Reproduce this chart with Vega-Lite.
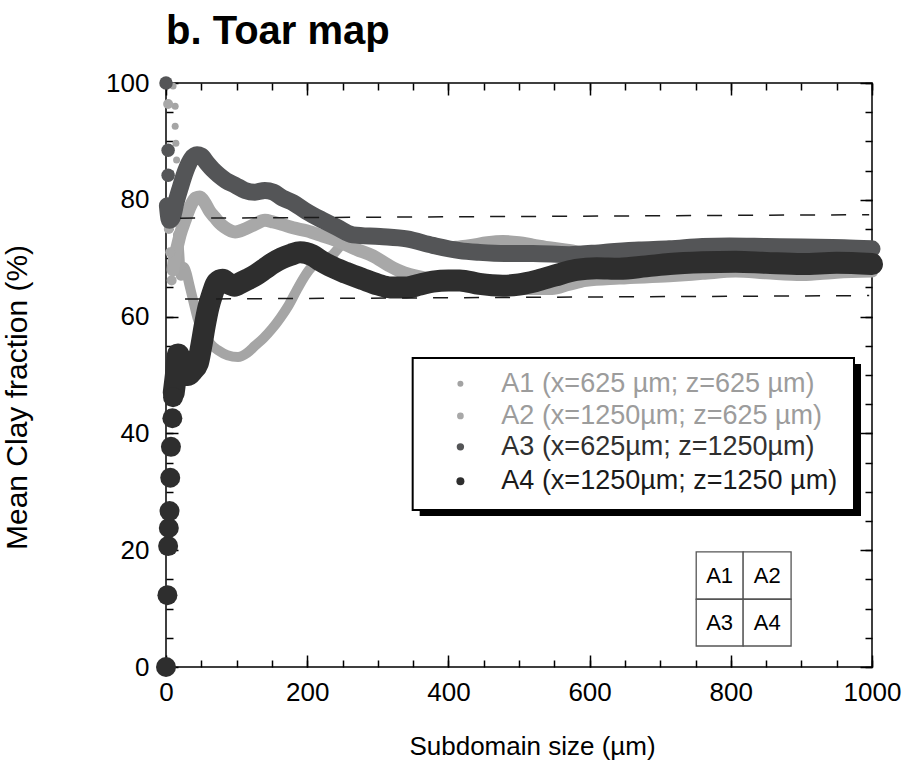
{
  "$schema": "https://vega.github.io/schema/vega-lite/v6.json",
  "width": 706,
  "height": 584,
  "autosize": "none",
  "padding": {"left": 166, "top": 83, "right": 35, "bottom": 104},
  "background": "white",
  "config": {
    "view": {"stroke": "black", "strokeWidth": 1.5},
    "font": "Liberation Sans",
    "axis": {"grid": false, "domain": false, "tickColor": "black", "tickWidth": 1.5, "labelColor": "black", "titleColor": "black", "labelFont": "Liberation Sans", "titleFont": "Liberation Sans", "labelFontSize": 26, "titleFontSize": 26, "titleFontWeight": "normal", "labelFlush": false, "labelOverlap": false}
  },
  "title": {"text": "b. Toar map", "anchor": "start", "frame": "group", "fontSize": 40, "font": "Liberation Sans", "fontWeight": "bold", "color": "black", "offset": 18},
  "datasets": {
    "curves": [
      {"s": "A1", "x": 10, "y": 99.5, "p": 1}, {"s": "A1", "x": 13, "y": 96, "p": 1}, {"s": "A1", "x": 13, "y": 92.6, "p": 1}, {"s": "A1", "x": 14, "y": 89.7, "p": 1}, {"s": "A1", "x": 15, "y": 86.8, "p": 1}, {"s": "A1", "x": 24, "y": 68.7, "p": 1},
      {"s": "A1", "x": 17, "y": 74, "p": 0}, {"s": "A1", "x": 19, "y": 70.5, "p": 0}, {"s": "A1", "x": 21, "y": 67, "p": 0}, {"s": "A1", "x": 25, "y": 68.5, "p": 0}, {"s": "A1", "x": 29, "y": 67.5, "p": 0}, {"s": "A1", "x": 33, "y": 65.5, "p": 0}, {"s": "A1", "x": 37, "y": 63.5, "p": 0}, {"s": "A1", "x": 41, "y": 61.5, "p": 0}, {"s": "A1", "x": 45, "y": 59.6, "p": 0}, {"s": "A1", "x": 50, "y": 58, "p": 0}, {"s": "A1", "x": 55, "y": 56.7, "p": 0}, {"s": "A1", "x": 64, "y": 55.2, "p": 0}, {"s": "A1", "x": 73, "y": 54.3, "p": 0}, {"s": "A1", "x": 87, "y": 53.4, "p": 0}, {"s": "A1", "x": 102, "y": 53.1, "p": 0}, {"s": "A1", "x": 115, "y": 53.8, "p": 0}, {"s": "A1", "x": 126, "y": 55, "p": 0}, {"s": "A1", "x": 138, "y": 56.3, "p": 0}, {"s": "A1", "x": 150, "y": 57.9, "p": 0}, {"s": "A1", "x": 162, "y": 59.8, "p": 0}, {"s": "A1", "x": 173, "y": 61.8, "p": 0}, {"s": "A1", "x": 185, "y": 64.5, "p": 0}, {"s": "A1", "x": 197, "y": 67, "p": 0}, {"s": "A1", "x": 207, "y": 68.6, "p": 0}, {"s": "A1", "x": 222, "y": 69.6, "p": 0}, {"s": "A1", "x": 236, "y": 70.6, "p": 0}, {"s": "A1", "x": 250, "y": 72.5, "p": 0}, {"s": "A1", "x": 265, "y": 73.8, "p": 0}, {"s": "A1", "x": 285, "y": 73.8, "p": 0}, {"s": "A1", "x": 303, "y": 73.8, "p": 0}, {"s": "A1", "x": 322, "y": 73.6, "p": 0}, {"s": "A1", "x": 341, "y": 73.3, "p": 0}, {"s": "A1", "x": 360, "y": 72.7, "p": 0}, {"s": "A1", "x": 378, "y": 72.2, "p": 0}, {"s": "A1", "x": 400, "y": 72.0, "p": 0}, {"s": "A1", "x": 416, "y": 72.2, "p": 0}, {"s": "A1", "x": 430, "y": 72.4, "p": 0}, {"s": "A1", "x": 455, "y": 72.9, "p": 0}, {"s": "A1", "x": 477, "y": 73.1, "p": 0}, {"s": "A1", "x": 500, "y": 72.9, "p": 0}, {"s": "A1", "x": 520, "y": 72.5, "p": 0}, {"s": "A1", "x": 545, "y": 72, "p": 0}, {"s": "A1", "x": 571, "y": 71.6, "p": 0}, {"s": "A1", "x": 600, "y": 71, "p": 0}, {"s": "A1", "x": 640, "y": 71.1, "p": 0}, {"s": "A1", "x": 670, "y": 71.4, "p": 0}, {"s": "A1", "x": 713, "y": 71.6, "p": 0}, {"s": "A1", "x": 760, "y": 72, "p": 0}, {"s": "A1", "x": 798, "y": 72.1, "p": 0}, {"s": "A1", "x": 850, "y": 72, "p": 0}, {"s": "A1", "x": 901, "y": 71.9, "p": 0}, {"s": "A1", "x": 960, "y": 71.8, "p": 0}, {"s": "A1", "x": 1000, "y": 71.6, "p": 0},
      {"s": "A2", "x": 3, "y": 96.4, "p": 1}, {"s": "A2", "x": 4, "y": 75, "p": 1}, {"s": "A2", "x": 6, "y": 71, "p": 1}, {"s": "A2", "x": 8, "y": 66.2, "p": 1},
      {"s": "A2", "x": 10, "y": 68, "p": 0}, {"s": "A2", "x": 12, "y": 70, "p": 0}, {"s": "A2", "x": 16, "y": 72, "p": 0}, {"s": "A2", "x": 20, "y": 74, "p": 0}, {"s": "A2", "x": 27, "y": 76.5, "p": 0}, {"s": "A2", "x": 35, "y": 79, "p": 0}, {"s": "A2", "x": 42, "y": 80.3, "p": 0}, {"s": "A2", "x": 48, "y": 80.5, "p": 0}, {"s": "A2", "x": 55, "y": 79.5, "p": 0}, {"s": "A2", "x": 62, "y": 78, "p": 0}, {"s": "A2", "x": 69, "y": 77, "p": 0}, {"s": "A2", "x": 76, "y": 76, "p": 0}, {"s": "A2", "x": 83, "y": 75.3, "p": 0}, {"s": "A2", "x": 98, "y": 74.5, "p": 0}, {"s": "A2", "x": 112, "y": 75, "p": 0}, {"s": "A2", "x": 126, "y": 75.8, "p": 0}, {"s": "A2", "x": 140, "y": 76.5, "p": 0}, {"s": "A2", "x": 152, "y": 76.2, "p": 0}, {"s": "A2", "x": 164, "y": 75.8, "p": 0}, {"s": "A2", "x": 180, "y": 75.2, "p": 0}, {"s": "A2", "x": 199, "y": 74.7, "p": 0}, {"s": "A2", "x": 222, "y": 73.8, "p": 0}, {"s": "A2", "x": 246, "y": 72.8, "p": 0}, {"s": "A2", "x": 270, "y": 71.5, "p": 0}, {"s": "A2", "x": 293, "y": 70.4, "p": 0}, {"s": "A2", "x": 315, "y": 68.8, "p": 0}, {"s": "A2", "x": 331, "y": 67.8, "p": 0}, {"s": "A2", "x": 345, "y": 67.2, "p": 0}, {"s": "A2", "x": 359, "y": 66.8, "p": 0}, {"s": "A2", "x": 380, "y": 66.3, "p": 0}, {"s": "A2", "x": 400, "y": 65.8, "p": 0}, {"s": "A2", "x": 430, "y": 65.3, "p": 0}, {"s": "A2", "x": 477, "y": 64.8, "p": 0}, {"s": "A2", "x": 524, "y": 64.8, "p": 0}, {"s": "A2", "x": 547, "y": 64.8, "p": 0}, {"s": "A2", "x": 570, "y": 65.5, "p": 0}, {"s": "A2", "x": 595, "y": 66.2, "p": 0}, {"s": "A2", "x": 642, "y": 66.6, "p": 0}, {"s": "A2", "x": 713, "y": 67, "p": 0}, {"s": "A2", "x": 760, "y": 67.4, "p": 0}, {"s": "A2", "x": 807, "y": 67.8, "p": 0}, {"s": "A2", "x": 850, "y": 67.5, "p": 0}, {"s": "A2", "x": 901, "y": 67.2, "p": 0}, {"s": "A2", "x": 950, "y": 67.6, "p": 0}, {"s": "A2", "x": 1000, "y": 67.8, "p": 0},
      {"s": "A3", "x": 0, "y": 100, "p": 1}, {"s": "A3", "x": 3, "y": 88.5, "p": 1}, {"s": "A3", "x": 3, "y": 84.2, "p": 1},
      {"s": "A3", "x": 2, "y": 79, "p": 0}, {"s": "A3", "x": 5, "y": 76.5, "p": 0}, {"s": "A3", "x": 9, "y": 77, "p": 0}, {"s": "A3", "x": 14, "y": 79.5, "p": 0}, {"s": "A3", "x": 20, "y": 82, "p": 0}, {"s": "A3", "x": 28, "y": 85, "p": 0}, {"s": "A3", "x": 36, "y": 87, "p": 0}, {"s": "A3", "x": 44, "y": 87.7, "p": 0}, {"s": "A3", "x": 50, "y": 87.5, "p": 0}, {"s": "A3", "x": 58, "y": 86.3, "p": 0}, {"s": "A3", "x": 66, "y": 85.2, "p": 0}, {"s": "A3", "x": 75, "y": 84.2, "p": 0}, {"s": "A3", "x": 85, "y": 83.3, "p": 0}, {"s": "A3", "x": 98, "y": 82.5, "p": 0}, {"s": "A3", "x": 112, "y": 81.6, "p": 0}, {"s": "A3", "x": 126, "y": 81.3, "p": 0}, {"s": "A3", "x": 140, "y": 81.6, "p": 0}, {"s": "A3", "x": 152, "y": 81.3, "p": 0}, {"s": "A3", "x": 165, "y": 80.3, "p": 0}, {"s": "A3", "x": 180, "y": 79.5, "p": 0}, {"s": "A3", "x": 199, "y": 78, "p": 0}, {"s": "A3", "x": 222, "y": 76.5, "p": 0}, {"s": "A3", "x": 242, "y": 75.3, "p": 0}, {"s": "A3", "x": 265, "y": 74, "p": 0}, {"s": "A3", "x": 303, "y": 73.7, "p": 0}, {"s": "A3", "x": 341, "y": 73.3, "p": 0}, {"s": "A3", "x": 378, "y": 72.2, "p": 0}, {"s": "A3", "x": 416, "y": 71.3, "p": 0}, {"s": "A3", "x": 444, "y": 71, "p": 0}, {"s": "A3", "x": 480, "y": 70.8, "p": 0}, {"s": "A3", "x": 520, "y": 70.8, "p": 0}, {"s": "A3", "x": 571, "y": 70.6, "p": 0}, {"s": "A3", "x": 620, "y": 71, "p": 0}, {"s": "A3", "x": 670, "y": 71.4, "p": 0}, {"s": "A3", "x": 713, "y": 71.6, "p": 0}, {"s": "A3", "x": 760, "y": 72, "p": 0}, {"s": "A3", "x": 798, "y": 72.1, "p": 0}, {"s": "A3", "x": 850, "y": 72, "p": 0}, {"s": "A3", "x": 901, "y": 71.9, "p": 0}, {"s": "A3", "x": 960, "y": 71.8, "p": 0}, {"s": "A3", "x": 1000, "y": 71.6, "p": 0},
      {"s": "A4", "x": 0, "y": 0, "p": 1}, {"s": "A4", "x": 2, "y": 12.3, "p": 1}, {"s": "A4", "x": 3, "y": 20.7, "p": 1}, {"s": "A4", "x": 4, "y": 23.8, "p": 1}, {"s": "A4", "x": 5, "y": 26.7, "p": 1}, {"s": "A4", "x": 6, "y": 32.4, "p": 1}, {"s": "A4", "x": 7, "y": 37.7, "p": 1}, {"s": "A4", "x": 9, "y": 42.6, "p": 1}, {"s": "A4", "x": 10, "y": 46.2, "p": 1},
      {"s": "A4", "x": 11, "y": 47, "p": 0}, {"s": "A4", "x": 14, "y": 50, "p": 0}, {"s": "A4", "x": 17, "y": 53.5, "p": 0}, {"s": "A4", "x": 21, "y": 52.5, "p": 0}, {"s": "A4", "x": 26, "y": 51, "p": 0}, {"s": "A4", "x": 31, "y": 50, "p": 0}, {"s": "A4", "x": 38, "y": 50.8, "p": 0}, {"s": "A4", "x": 45, "y": 52, "p": 0}, {"s": "A4", "x": 50, "y": 55, "p": 0}, {"s": "A4", "x": 55, "y": 58.5, "p": 0}, {"s": "A4", "x": 60, "y": 61.5, "p": 0}, {"s": "A4", "x": 66, "y": 64, "p": 0}, {"s": "A4", "x": 72, "y": 65.8, "p": 0}, {"s": "A4", "x": 80, "y": 66.3, "p": 0}, {"s": "A4", "x": 88, "y": 65.7, "p": 0}, {"s": "A4", "x": 97, "y": 65.3, "p": 0}, {"s": "A4", "x": 106, "y": 65.8, "p": 0}, {"s": "A4", "x": 116, "y": 66.4, "p": 0}, {"s": "A4", "x": 128, "y": 67.2, "p": 0}, {"s": "A4", "x": 140, "y": 68.2, "p": 0}, {"s": "A4", "x": 152, "y": 69.2, "p": 0}, {"s": "A4", "x": 164, "y": 70, "p": 0}, {"s": "A4", "x": 177, "y": 70.6, "p": 0}, {"s": "A4", "x": 190, "y": 71, "p": 0}, {"s": "A4", "x": 207, "y": 70.5, "p": 0}, {"s": "A4", "x": 220, "y": 69.5, "p": 0}, {"s": "A4", "x": 232, "y": 68.7, "p": 0}, {"s": "A4", "x": 255, "y": 67.5, "p": 0}, {"s": "A4", "x": 279, "y": 66.4, "p": 0}, {"s": "A4", "x": 300, "y": 65.5, "p": 0}, {"s": "A4", "x": 317, "y": 65, "p": 0}, {"s": "A4", "x": 341, "y": 65, "p": 0}, {"s": "A4", "x": 360, "y": 65.5, "p": 0}, {"s": "A4", "x": 378, "y": 66, "p": 0}, {"s": "A4", "x": 400, "y": 66.2, "p": 0}, {"s": "A4", "x": 416, "y": 66.2, "p": 0}, {"s": "A4", "x": 444, "y": 65.6, "p": 0}, {"s": "A4", "x": 477, "y": 65.3, "p": 0}, {"s": "A4", "x": 500, "y": 65.5, "p": 0}, {"s": "A4", "x": 524, "y": 66.1, "p": 0}, {"s": "A4", "x": 550, "y": 67, "p": 0}, {"s": "A4", "x": 581, "y": 68, "p": 0}, {"s": "A4", "x": 610, "y": 68.3, "p": 0}, {"s": "A4", "x": 642, "y": 68.2, "p": 0}, {"s": "A4", "x": 680, "y": 68.6, "p": 0}, {"s": "A4", "x": 713, "y": 69, "p": 0}, {"s": "A4", "x": 760, "y": 69.3, "p": 0}, {"s": "A4", "x": 807, "y": 69.4, "p": 0}, {"s": "A4", "x": 850, "y": 69.2, "p": 0}, {"s": "A4", "x": 901, "y": 69, "p": 0}, {"s": "A4", "x": 950, "y": 69.2, "p": 0}, {"s": "A4", "x": 1000, "y": 69, "p": 0}
    ],
    "dash": [
      {"x1": 20, "y1": 76.85, "x2": 996, "y2": 77.45},
      {"x1": 27, "y1": 63.0, "x2": 996, "y2": 63.6}
    ],
    "box": [
      {"x1": 349.4, "x2": 974.5, "y1": 26.9, "y2": 52.9}
    ],
    "legend": [
      {"s": "A1", "label": "A1 (x=625 µm; z=625 µm)", "lx": 417, "tx": 475, "ly": 48.5},
      {"s": "A2", "label": "A2 (x=1250µm; z=625 µm)", "lx": 417, "tx": 475, "ly": 43.0},
      {"s": "A3", "label": "A3 (x=625µm; z=1250µm)", "lx": 417, "tx": 475, "ly": 37.7},
      {"s": "A4", "label": "A4 (x=1250µm; z=1250 µm)", "lx": 417, "tx": 475, "ly": 31.8}
    ],
    "cells": [
      {"label": "A1", "x1": 751, "x2": 817.5, "y1": 11.6, "y2": 19.7, "cx": 784.2, "cy": 15.65},
      {"label": "A2", "x1": 817.5, "x2": 885.4, "y1": 11.6, "y2": 19.7, "cx": 851.5, "cy": 15.65},
      {"label": "A3", "x1": 751, "x2": 817.5, "y1": 3.6, "y2": 11.6, "cx": 784.2, "cy": 7.6},
      {"label": "A4", "x1": 817.5, "x2": 885.4, "y1": 3.6, "y2": 11.6, "cx": 851.5, "cy": 7.6}
    ]
  },
  "resolve": {"axis": {"x": "independent", "y": "independent"}, "scale": {"color": "independent", "size": "independent"}},
  "layer": [
    {
      "data": {"name": "curves"},
      "transform": [{"filter": "datum.s == 'A1' && datum.p == 0"}],
      "mark": {"type": "line", "color": "#a5a5a5", "strokeWidth": 10, "strokeCap": "round", "strokeJoin": "round", "interpolate": "monotone"},
      "encoding": {
        "x": {"field": "x", "type": "quantitative", "scale": {"domain": [0, 1000], "nice": false, "zero": false}, "axis": {"orient": "bottom", "values": [0, 200, 400, 600, 800, 1000], "format": "d", "tickSize": -12, "labelPadding": 24, "title": "Subdomain size (µm)", "titleX": 366, "titleY": 66}},
        "y": {"field": "y", "type": "quantitative", "scale": {"domain": [0, 100], "nice": false, "zero": false}, "axis": {"orient": "left", "values": [0, 20, 40, 60, 80, 100], "format": "d", "tickSize": -12, "labelPadding": 29, "title": "Mean Clay fraction (%)", "titleFontSize": 30, "titleX": -134, "titleY": 314}}
      }
    },
    {
      "data": {"name": "curves"},
      "transform": [{"filter": "datum.s == 'A1' && datum.p == 1"}],
      "mark": {"type": "circle", "color": "#a5a5a5", "size": 49, "opacity": 1},
      "encoding": {
        "x": {"field": "x", "type": "quantitative", "axis": null},
        "y": {"field": "y", "type": "quantitative", "axis": null}
      }
    },
    {
      "data": {"name": "curves"},
      "transform": [{"filter": "datum.s == 'A2' && datum.p == 0"}],
      "mark": {"type": "line", "color": "#a8a8a8", "strokeWidth": 13, "strokeCap": "round", "strokeJoin": "round", "interpolate": "monotone"},
      "encoding": {
        "x": {"field": "x", "type": "quantitative", "axis": {"orient": "bottom", "values": [0, 50, 100, 150, 200, 250, 300, 350, 400, 450, 500, 550, 600, 650, 700, 750, 800, 850, 900, 950, 1000], "tickSize": -7, "labels": false, "title": null}},
        "y": {"field": "y", "type": "quantitative", "axis": {"orient": "left", "values": [0, 5, 10, 15, 20, 25, 30, 35, 40, 45, 50, 55, 60, 65, 70, 75, 80, 85, 90, 95, 100], "tickSize": -7, "labels": false, "title": null}}
      }
    },
    {
      "data": {"name": "curves"},
      "transform": [{"filter": "datum.s == 'A2' && datum.p == 1"}],
      "mark": {"type": "circle", "color": "#a8a8a8", "size": 100, "opacity": 1},
      "encoding": {
        "x": {"field": "x", "type": "quantitative", "axis": null},
        "y": {"field": "y", "type": "quantitative", "axis": null}
      }
    },
    {
      "data": {"name": "curves"},
      "transform": [{"filter": "datum.s == 'A3' && datum.p == 0"}],
      "mark": {"type": "line", "color": "#545557", "strokeWidth": 17, "strokeCap": "round", "strokeJoin": "round", "interpolate": "monotone"},
      "encoding": {
        "x": {"field": "x", "type": "quantitative", "axis": {"orient": "top", "values": [0, 200, 400, 600, 800, 1000], "tickSize": -12, "labels": false, "title": null}},
        "y": {"field": "y", "type": "quantitative", "axis": {"orient": "right", "values": [0, 20, 40, 60, 80, 100], "tickSize": -12, "labels": false, "title": null}}
      }
    },
    {
      "data": {"name": "curves"},
      "transform": [{"filter": "datum.s == 'A3' && datum.p == 1"}],
      "mark": {"type": "circle", "color": "#545557", "size": 182, "opacity": 1},
      "encoding": {
        "x": {"field": "x", "type": "quantitative", "axis": null},
        "y": {"field": "y", "type": "quantitative", "axis": null}
      }
    },
    {
      "data": {"name": "curves"},
      "transform": [{"filter": "datum.s == 'A4' && datum.p == 0"}],
      "mark": {"type": "line", "color": "#2e2e2e", "strokeWidth": 22, "strokeCap": "round", "strokeJoin": "round", "interpolate": "monotone"},
      "encoding": {
        "x": {"field": "x", "type": "quantitative", "axis": {"orient": "top", "values": [0, 50, 100, 150, 200, 250, 300, 350, 400, 450, 500, 550, 600, 650, 700, 750, 800, 850, 900, 950, 1000], "tickSize": -7, "labels": false, "title": null}},
        "y": {"field": "y", "type": "quantitative", "axis": {"orient": "right", "values": [0, 5, 10, 15, 20, 25, 30, 35, 40, 45, 50, 55, 60, 65, 70, 75, 80, 85, 90, 95, 100], "tickSize": -7, "labels": false, "title": null}}
      }
    },
    {
      "data": {"name": "curves"},
      "transform": [{"filter": "datum.s == 'A4' && datum.p == 1"}],
      "mark": {"type": "circle", "color": "#2e2e2e", "size": 400, "opacity": 1},
      "encoding": {
        "x": {"field": "x", "type": "quantitative", "axis": null},
        "y": {"field": "y", "type": "quantitative", "axis": null}
      }
    },
    {
      "data": {"name": "dash"},
      "mark": {"type": "rule", "color": "#1a1a1a", "strokeWidth": 1.5, "strokeDash": [15, 16]},
      "encoding": {
        "x": {"field": "x1", "type": "quantitative", "axis": null},
        "y": {"field": "y1", "type": "quantitative", "axis": null},
        "x2": {"field": "x2"},
        "y2": {"field": "y2"}
      }
    },
    {
      "data": {"name": "box"},
      "mark": {"type": "rect", "fill": "black", "xOffset": 7, "x2Offset": 7, "yOffset": 6, "y2Offset": 6},
      "encoding": {
        "x": {"field": "x1", "type": "quantitative", "axis": null},
        "x2": {"field": "x2"},
        "y": {"field": "y1", "type": "quantitative", "axis": null},
        "y2": {"field": "y2"}
      }
    },
    {
      "data": {"name": "box"},
      "mark": {"type": "rect", "fill": "white", "stroke": "black", "strokeWidth": 2},
      "encoding": {
        "x": {"field": "x1", "type": "quantitative", "axis": null},
        "x2": {"field": "x2"},
        "y": {"field": "y1", "type": "quantitative", "axis": null},
        "y2": {"field": "y2"}
      }
    },
    {
      "data": {"name": "legend"},
      "mark": {"type": "circle", "opacity": 1},
      "encoding": {
        "x": {"field": "lx", "type": "quantitative", "axis": null},
        "y": {"field": "ly", "type": "quantitative", "axis": null},
        "color": {"field": "s", "type": "nominal", "scale": {"domain": ["A1", "A2", "A3", "A4"], "range": ["#a3a3a3", "#a8a8a8", "#545557", "#2e2e2e"]}, "legend": null},
        "size": {"field": "s", "type": "ordinal", "scale": {"domain": ["A1", "A2", "A3", "A4"], "range": [36, 64, 144, 225]}, "legend": null}
      }
    },
    {
      "data": {"name": "legend"},
      "mark": {"type": "text", "align": "left", "baseline": "middle", "fontSize": 27, "font": "Liberation Sans"},
      "encoding": {
        "x": {"field": "tx", "type": "quantitative", "axis": null},
        "y": {"field": "ly", "type": "quantitative", "axis": null},
        "text": {"field": "label"},
        "color": {"field": "s", "type": "nominal", "scale": {"domain": ["A1", "A2", "A3", "A4"], "range": ["#9c9c9c", "#9c9c9c", "#303030", "#1a1a1a"]}, "legend": null}
      }
    },
    {
      "data": {"name": "cells"},
      "mark": {"type": "rect", "fill": "white", "stroke": "#555555", "strokeWidth": 1.3},
      "encoding": {
        "x": {"field": "x1", "type": "quantitative", "axis": null},
        "x2": {"field": "x2"},
        "y": {"field": "y1", "type": "quantitative", "axis": null},
        "y2": {"field": "y2"}
      }
    },
    {
      "data": {"name": "cells"},
      "mark": {"type": "text", "align": "center", "baseline": "middle", "fontSize": 22, "font": "Liberation Sans", "color": "black"},
      "encoding": {
        "x": {"field": "cx", "type": "quantitative", "axis": null},
        "y": {"field": "cy", "type": "quantitative", "axis": null},
        "text": {"field": "label"}
      }
    }
  ]
}
